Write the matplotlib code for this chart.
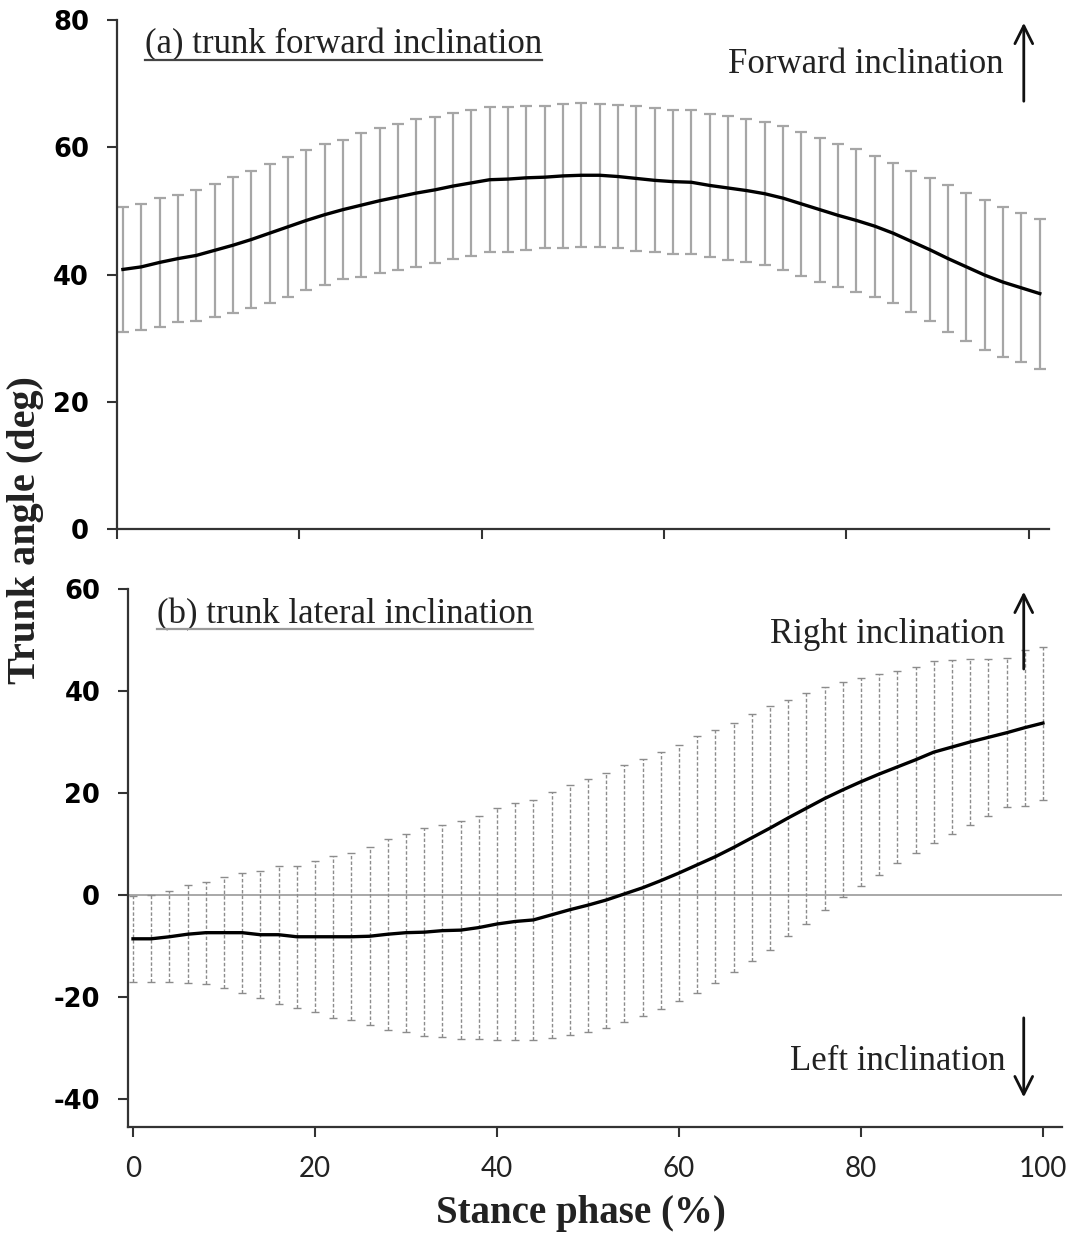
"""Trunk inclination during stance: forward (a) and lateral (b) angle, mean +/- SD."""

import matplotlib

matplotlib.use("Agg")
import matplotlib.pyplot as plt
import numpy as np
from matplotlib.lines import Line2D

plt.rcParams["axes.unicode_minus"] = False

# stance phase sampled every 2 %
STANCE = list(range(0, 101, 2))

# (a) trunk forward inclination (deg)
FWD_MEAN = [40.8, 41.2, 41.9, 42.5, 43.0, 43.8, 44.6, 45.5, 46.5, 47.5,
            48.5, 49.4, 50.2, 50.9, 51.6, 52.2, 52.8, 53.3, 53.9, 54.4,
            54.9, 55.0, 55.2, 55.3, 55.5, 55.6, 55.6, 55.4, 55.1, 54.8,
            54.6, 54.5, 54.0, 53.6, 53.2, 52.7, 52.0, 51.1, 50.2, 49.3,
            48.5, 47.6, 46.5, 45.2, 43.9, 42.5, 41.2, 39.9, 38.8, 37.9,
            37.0]
FWD_SD = [9.8, 9.9, 10.1, 10.0, 10.3, 10.5, 10.7, 10.8, 10.9, 11.0,
          11.0, 11.1, 10.9, 11.3, 11.4, 11.5, 11.6, 11.5, 11.5, 11.5,
          11.4, 11.4, 11.3, 11.2, 11.3, 11.3, 11.2, 11.3, 11.4, 11.3,
          11.3, 11.3, 11.2, 11.3, 11.3, 11.2, 11.3, 11.3, 11.3, 11.2,
          11.2, 11.1, 11.0, 11.1, 11.2, 11.6, 11.6, 11.8, 11.8, 11.7,
          11.8]

# (b) trunk lateral inclination (deg), positive = right
LAT_MEAN = [-8.6, -8.6, -8.2, -7.7, -7.4, -7.4, -7.4, -7.8, -7.8, -8.2,
            -8.2, -8.2, -8.2, -8.1, -7.7, -7.4, -7.3, -7.0, -6.9, -6.4,
            -5.7, -5.2, -4.9, -3.9, -2.9, -2.0, -1.0, 0.2, 1.4, 2.8,
            4.3, 5.9, 7.5, 9.3, 11.2, 13.1, 15.1, 17.0, 18.9, 20.6,
            22.2, 23.7, 25.1, 26.5, 28.0, 29.0, 30.0, 30.9, 31.8, 32.8,
            33.7]
LAT_SD = [8.4, 8.5, 8.9, 9.6, 10.0, 10.9, 11.8, 12.4, 13.5, 13.9,
          14.8, 15.9, 16.4, 17.5, 18.7, 19.4, 20.4, 20.8, 21.4, 21.9,
          22.8, 23.2, 23.5, 24.1, 24.5, 24.8, 25.0, 25.2, 25.2, 25.2,
          25.1, 25.2, 24.8, 24.4, 24.2, 23.9, 23.1, 22.6, 21.8, 21.1,
          20.4, 19.7, 18.9, 18.2, 17.8, 17.0, 16.3, 15.4, 14.6, 15.3,
          15.0]

FWD_YTICKS = [0, 20, 40, 60, 80]
LAT_YTICKS = [-40, -20, 0, 20, 40, 60]
X_TICKS = [0, 20, 40, 60, 80, 100]

SERIF = "Liberation Serif"
TICK_FONT = "DejaVu Sans"
AXIS_COLOR = "#333333"
TEXT_COLOR = "#222222"


def _style_axes(ax):
    for side in ("top", "right"):
        ax.spines[side].set_visible(False)
    for side in ("left", "bottom"):
        ax.spines[side].set_color(AXIS_COLOR)
        ax.spines[side].set_linewidth(1.6)
    ax.tick_params(direction="out", length=7, width=1.5, color=AXIS_COLOR)
    ax.tick_params(axis="y", labelsize=18.5, pad=13)
    for lab in ax.get_yticklabels():
        lab.set_fontfamily(TICK_FONT)
        lab.set_fontweight("bold")


def _underline(fig, txt, color, pad_px=2.0):
    fig.canvas.draw()
    bb = txt.get_window_extent()
    inv = fig.transFigure.inverted()
    (x0, y0), (x1, _) = inv.transform([(bb.x0, bb.y0 + pad_px), (bb.x1, bb.y0 + pad_px)])
    fig.add_artist(Line2D([x0, x1], [y0, y0], transform=fig.transFigure, color=color, lw=1.6))


def _arrow(ax, x, y_from, y_to):
    ax.annotate("", xy=(x, y_to), xytext=(x, y_from), xycoords="axes fraction",
                arrowprops=dict(arrowstyle="->", lw=2.0, color="#111111", mutation_scale=32),
                annotation_clip=False)


fig = plt.figure(figsize=(10.72, 12.36), dpi=100)
ax_a = fig.add_axes([0.1091, 0.5720, 0.8694, 0.4118])
ax_b = fig.add_axes([0.1194, 0.0882, 0.8713, 0.4353])

# ---- (a) forward inclination
ax_a.errorbar(STANCE, FWD_MEAN, yerr=FWD_SD, fmt="none", ecolor="#a6a6a6",
              elinewidth=1.6, capsize=4.5, capthick=1.6, zorder=2)
ax_a.plot(STANCE, FWD_MEAN, color="black", lw=2.4, zorder=5)
ax_a.set_xlim(-0.65, 101)
ax_a.set_ylim(0, 80)
ax_a.set_yticks(FWD_YTICKS)
ax_a.set_xticks(np.linspace(-0.65, 98.8, 6))
ax_a.set_xticklabels([])
_style_axes(ax_a)

ta = ax_a.text(0.030, 0.951, "(a) trunk forward inclination", transform=ax_a.transAxes,
               ha="left", va="center", fontsize=25, family=SERIF, color=TEXT_COLOR)
ax_a.text(0.951, 0.912, "Forward inclination", transform=ax_a.transAxes,
          ha="right", va="center", fontsize=25, family=SERIF, color=TEXT_COLOR)
_arrow(ax_a, 0.973, 0.835, 1.0)

# ---- (b) lateral inclination
ax_b.axhline(0, color="#9a9a9a", lw=1.2, zorder=1)
eb = ax_b.errorbar(STANCE, LAT_MEAN, yerr=LAT_SD, fmt="none", ecolor="#8c8c8c",
                   elinewidth=1.0, capsize=3, capthick=1.0, zorder=2)
eb[2][0].set_linestyle((0, (2.5, 1.5)))
ax_b.plot(STANCE, LAT_MEAN, color="black", lw=2.4, zorder=5)
ax_b.set_xlim(-0.55, 102.1)
ax_b.set_ylim(-45.5, 60)
ax_b.set_yticks(LAT_YTICKS)
ax_b.set_xticks(X_TICKS)
_style_axes(ax_b)
ax_b.tick_params(axis="x", labelsize=20, pad=14)
for lab in ax_b.get_xticklabels():
    lab.set_fontfamily("Lato")
    lab.set_color("#222222")

tb = ax_b.text(0.031, 0.952, "(b) trunk lateral inclination", transform=ax_b.transAxes,
               ha="left", va="center", fontsize=25, family=SERIF, color=TEXT_COLOR)
ax_b.text(0.939, 0.916, "Right inclination", transform=ax_b.transAxes,
          ha="right", va="center", fontsize=25, family=SERIF, color=TEXT_COLOR)
ax_b.text(0.939, 0.121, "Left inclination", transform=ax_b.transAxes,
          ha="right", va="center", fontsize=25, family=SERIF, color=TEXT_COLOR)
_arrow(ax_b, 0.959, 0.846, 1.0)
_arrow(ax_b, 0.959, 0.208, 0.05)

fig.text(0.024, 0.571, "Trunk angle (deg)", rotation=90, ha="center", va="center",
         fontsize=29, fontweight="bold", family=SERIF, color=TEXT_COLOR)
fig.text(0.542, 0.0186, "Stance phase (%)", ha="center", va="center",
         fontsize=28, fontweight="bold", family=SERIF, color=TEXT_COLOR)

_underline(fig, ta, "#444444")
_underline(fig, tb, "#9a9a9a")

fig.savefig("out.png", dpi=100)
